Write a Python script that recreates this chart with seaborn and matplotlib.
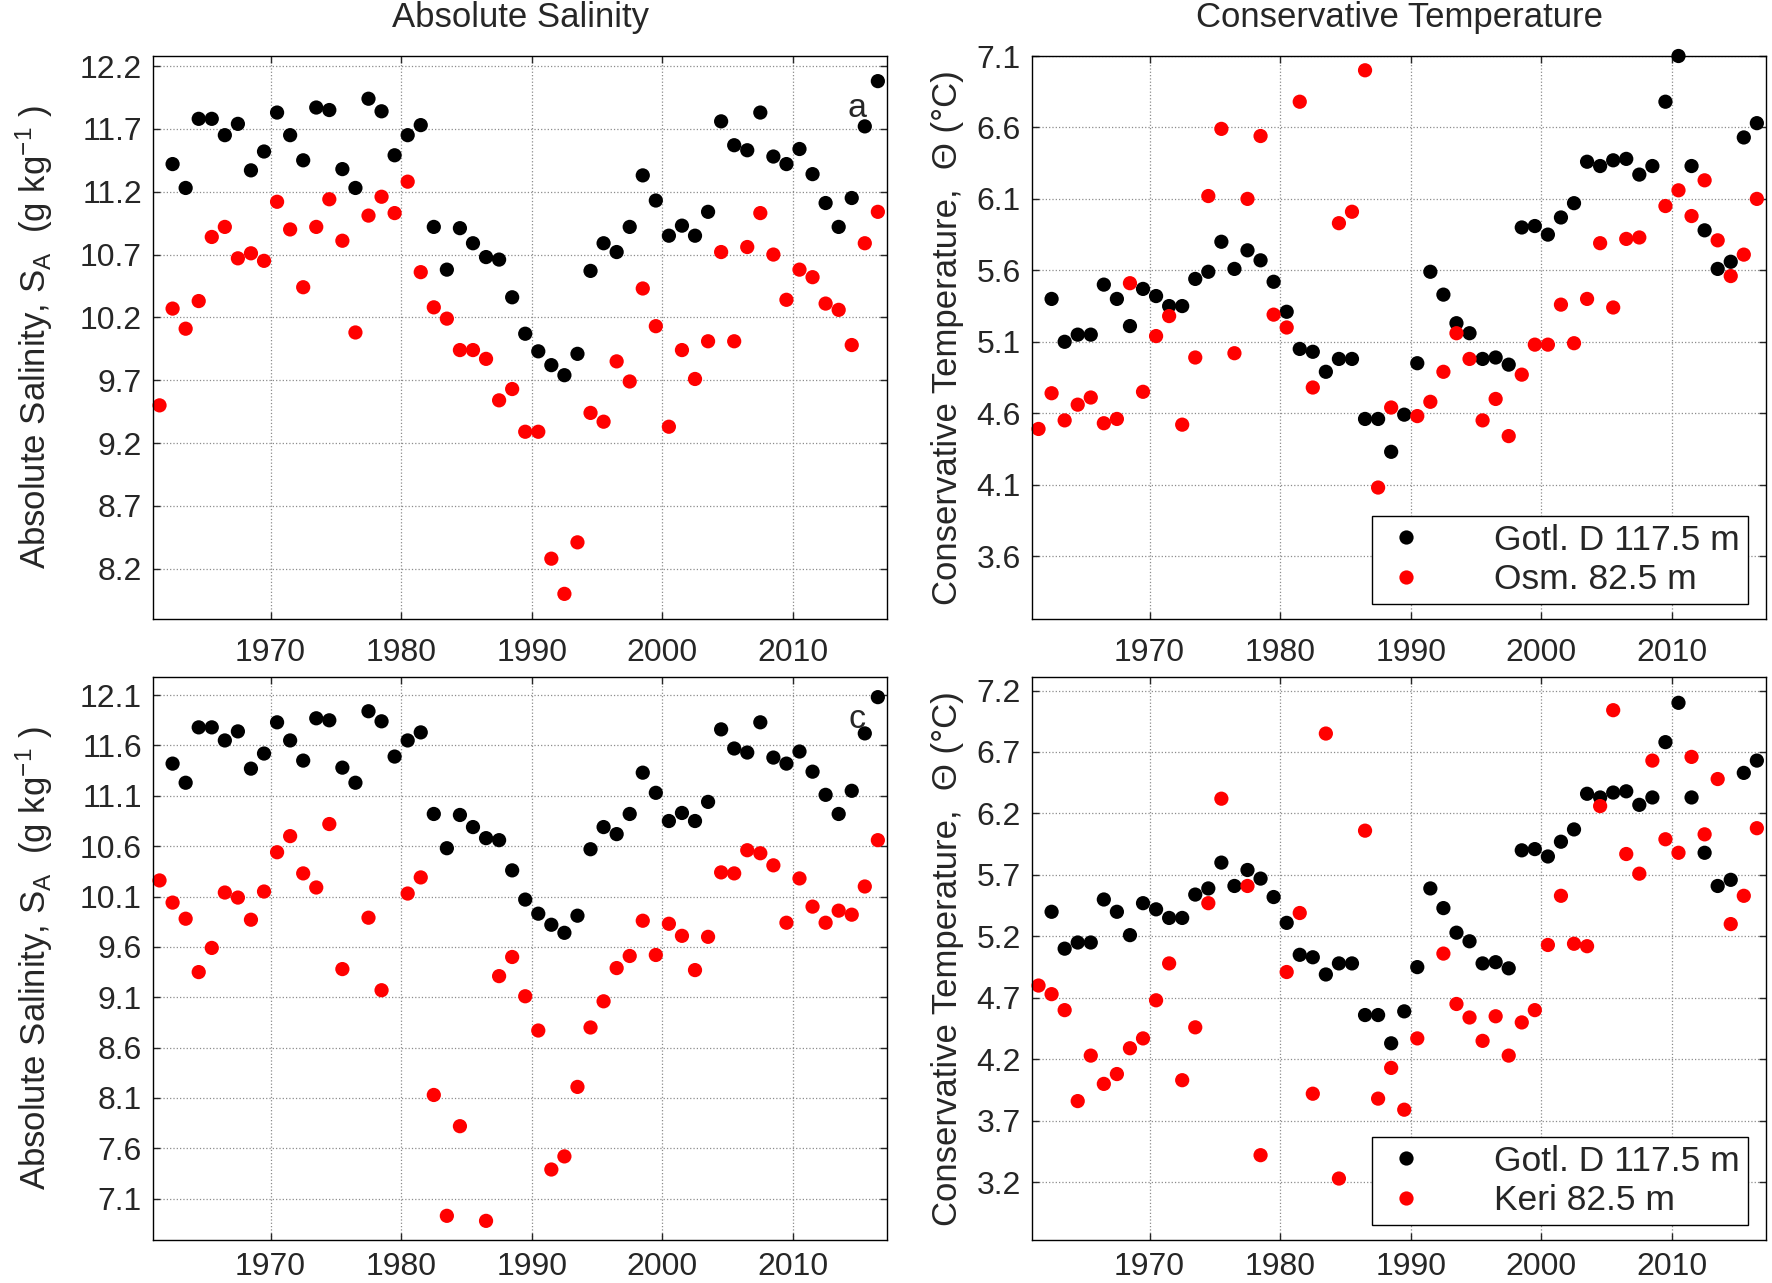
import numpy as np
import pandas as pd
import seaborn as sns
import matplotlib.pyplot as plt

YEARS = list(range(1961, 2017))
NA = np.nan

# Gotland Deep 117.5 m (black), 1961..2016
gotl_sal = [NA, 11.42, 11.23, 11.78, 11.78, 11.65, 11.74, 11.37, 11.52, 11.83,
            11.65, 11.45, 11.87, 11.85, 11.38, 11.23, 11.94, 11.84, 11.49, 11.65,
            11.73, 10.92, 10.58, 10.91, 10.79, 10.68, 10.66, 10.36, 10.07, 9.93,
            9.82, 9.74, 9.91, 10.57, 10.79, 10.72, 10.92, 11.33, 11.13, 10.85,
            10.93, 10.85, 11.04, 11.76, 11.57, 11.53, 11.83, 11.48, 11.42, 11.54,
            11.34, 11.11, 10.92, 11.15, 11.72, 12.08]
gotl_temp = [NA, 5.40, 5.10, 5.15, 5.15, 5.50, 5.40, 5.21, 5.47, 5.42,
             5.35, 5.35, 5.54, 5.59, 5.80, 5.61, 5.74, 5.67, 5.52, 5.31,
             5.05, 5.03, 4.89, 4.98, 4.98, 4.56, 4.56, 4.33, 4.59, 4.95,
             5.59, 5.43, 5.23, 5.16, 4.98, 4.99, 4.94, 5.90, 5.91, 5.85,
             5.97, 6.07, 6.36, 6.33, 6.37, 6.38, 6.27, 6.33, 6.78, 7.10,
             6.33, 5.88, 5.61, 5.66, 6.53, 6.63]

# Osmussaar 82.5 m (red, top row)
osm_sal = [9.50, 10.27, 10.11, 10.33, 10.84, 10.92, 10.67, 10.71, 10.65, 11.12,
           10.90, 10.44, 10.92, 11.14, 10.81, 10.08, 11.01, 11.16, 11.03, 11.28,
           10.56, 10.28, 10.19, 9.94, 9.94, 9.87, 9.54, 9.63, 9.29, 9.29,
           8.28, 8.00, 8.41, 9.44, 9.37, 9.85, 9.69, 10.43, 10.13, 9.33,
           9.94, 9.71, 10.01, 10.72, 10.01, 10.76, 11.03, 10.70, 10.34, 10.58,
           10.52, 10.31, 10.26, 9.98, 10.79, 11.04]
osm_temp = [4.49, 4.74, 4.55, 4.66, 4.71, 4.53, 4.56, 5.51, 4.75, 5.14,
            5.28, 4.52, 4.99, 6.12, 6.59, 5.02, 6.10, 6.54, 5.29, 5.20,
            6.78, 4.78, NA, 5.93, 6.01, 7.00, 4.08, 4.64, NA, 4.58,
            4.68, 4.89, 5.16, 4.98, 4.55, 4.70, 4.44, 4.87, 5.08, 5.08,
            5.36, 5.09, 5.40, 5.79, 5.34, 5.82, 5.83, NA, 6.05, 6.16,
            5.98, 6.23, 5.81, 5.56, 5.71, 6.10]

# Keri 82.5 m (red, bottom row)
keri_sal = [10.26, 10.04, 9.88, 9.35, 9.59, 10.14, 10.09, 9.87, 10.15, 10.54,
            10.70, 10.33, 10.19, 10.82, 9.38, NA, 9.89, 9.17, NA, 10.13,
            10.29, 8.13, 6.93, 7.82, NA, 6.88, 9.31, 9.50, 9.11, 8.77,
            7.39, 7.52, 8.21, 8.80, 9.06, 9.39, 9.51, 9.86, 9.52, 9.83,
            9.71, 9.37, 9.70, 10.34, 10.33, 10.56, 10.53, 10.41, 9.84, 10.28,
            10.00, 9.84, 9.96, 9.92, 10.20, 10.66]
keri_temp = [4.80, 4.73, 4.60, 3.86, 4.23, 4.00, 4.08, 4.29, 4.37, 4.68,
             4.98, 4.03, 4.46, 5.47, 6.32, NA, 5.61, 3.42, NA, 4.91,
             5.39, 3.92, 6.85, 3.23, NA, 6.06, 3.88, 4.13, 3.79, 4.37,
             NA, 5.06, 4.65, 4.54, 4.35, 4.55, 4.23, 4.50, 4.60, 5.13,
             5.53, 5.14, 5.12, 6.26, 7.04, 5.87, 5.71, 6.63, 5.99, 5.88,
             6.66, 6.03, 6.48, 5.30, 5.53, 6.08]

GOTL_NAME = "Gotl. D 117.5 m"
OSM_NAME = "Osm. 82.5 m"
KERI_NAME = "Keri 82.5 m"

SAL_LABEL = r"Absolute Salinity, S$_\mathregular{A}$  (g kg$^\mathregular{-1}$ )"
TEMP_LABEL = "Conservative Temperature,  \u0398 (\u00b0C)"

W, H = 1772, 1283
TICK_FS = 23
LABEL_FS = 25
LEG_FS = 25.5
DOT = 105


def panel_frame(black, red, red_name):
    x = np.array(YEARS) + 0.5
    df = pd.concat([
        pd.DataFrame({"year": x, "value": black, "series": GOTL_NAME}),
        pd.DataFrame({"year": x, "value": red, "series": red_name}),
    ], ignore_index=True)
    return df.dropna()


def draw_panel(fig, rect, black, red, red_name, ylim, yticks, show_legend, tag, xpad):
    ax = fig.add_axes(rect)
    df = panel_frame(black, red, red_name)
    sns.scatterplot(data=df, x="year", y="value", hue="series",
                    hue_order=[GOTL_NAME, red_name],
                    palette={GOTL_NAME: "black", red_name: "#ff0000"},
                    s=DOT, linewidth=0, edgecolor="none", clip_on=False,
                    legend=show_legend, ax=ax)
    ax.set_xlim(1961.0, 2017.2)
    ax.set_ylim(*ylim)
    ax.set_xticks([1970, 1980, 1990, 2000, 2010])
    ax.set_yticks(yticks)
    ax.set_yticklabels([f"{t:.1f}" for t in yticks])
    ax.set_xlabel("")
    ax.set_ylabel("")
    ax.grid(True, linestyle=":", color="0.55", linewidth=0.9)
    ax.tick_params(direction="in", top=True, right=True, length=5, width=1.0,
                   labelsize=TICK_FS)
    ax.tick_params(axis="x", pad=xpad)
    ax.tick_params(axis="y", pad=8)
    for sp in ax.spines.values():
        sp.set_visible(True)
        sp.set_linewidth(1.0)
        sp.set_color("black")
    if tag:
        ax.text(2014.9, tag[1], tag[0], ha="center", va="center", fontsize=24.5)
    if show_legend:
        leg = ax.legend(loc="lower right", bbox_to_anchor=(0.975, 0.027),
                        borderaxespad=0, fontsize=LEG_FS, frameon=True,
                        fancybox=False, edgecolor="black", framealpha=1,
                        handlelength=1.5, handletextpad=1.74, borderpad=0.21,
                        labelspacing=0.19)
        leg.get_frame().set_linewidth(1.0)
        for h in leg.legend_handles:
            h.set_markersize(np.sqrt(DOT))
            h.set_markeredgewidth(0)
    return ax


sns.set_style("ticks")
plt.rcParams["font.family"] = ["Liberation Sans", "DejaVu Sans"]
plt.rcParams["mathtext.default"] = "regular"

fig = plt.figure(figsize=(W / 100, H / 100), dpi=100)

left_l, left_r = 153 / W, 1032 / W
aw = 734 / W
ah = 563 / H
top_b = (H - 619) / H
bot_b = (H - 1240) / H

ax_a = draw_panel(fig, [left_l, top_b, aw, ah], gotl_sal, osm_sal, OSM_NAME,
                  (7.80, 12.28), np.arange(8.2, 12.25, 0.5), False, ("a", 11.86), 13.5)
ax_b = draw_panel(fig, [left_r, top_b, aw, ah], gotl_temp, osm_temp, OSM_NAME,
                  (3.16, 7.10), np.arange(3.6, 7.15, 0.5), True, None, 13.5)
ax_c = draw_panel(fig, [left_l, bot_b, aw, ah], gotl_sal, keri_sal, KERI_NAME,
                  (6.69, 12.28), np.arange(7.1, 12.15, 0.5), False, ("c", 11.86), 8.5)
ax_d = draw_panel(fig, [left_r, bot_b, aw, ah], gotl_temp, keri_temp, KERI_NAME,
                  (2.73, 7.31), np.arange(3.2, 7.25, 0.5), True, None, 8.5)

# column titles
fig.text(left_l + aw / 2, 1 - 18 / H, "Absolute Salinity", ha="center", va="center", fontsize=LABEL_FS)
fig.text(left_r + aw / 2, 1 - 18 / H, "Conservative Temperature", ha="center", va="center", fontsize=LABEL_FS)

# y labels
for x_px, y0, label in [(34, top_b, SAL_LABEL), (34, bot_b, SAL_LABEL),
                        (947, top_b, TEMP_LABEL), (947, bot_b, TEMP_LABEL)]:
    fig.text(x_px / W, y0 + ah / 2, label, rotation=90, ha="center", va="center", fontsize=LABEL_FS)

fig.savefig("out.png", dpi=100)
plt.close(fig)
